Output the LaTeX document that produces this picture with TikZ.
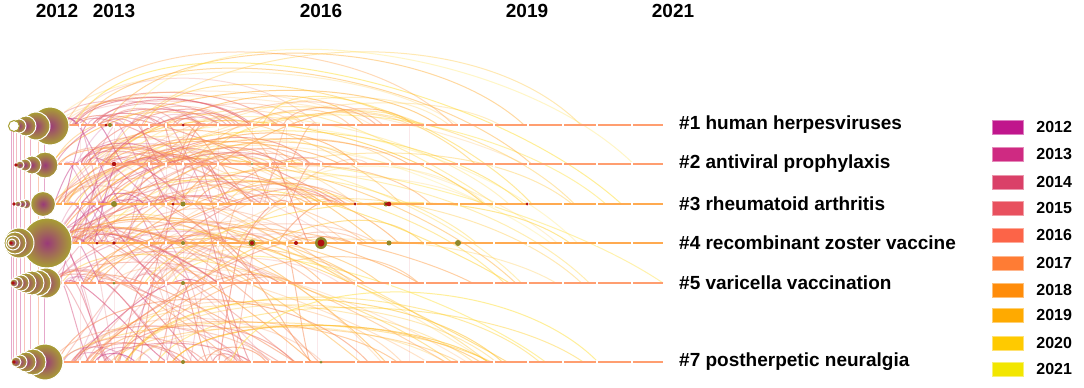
\documentclass[tikz,border=0pt]{standalone}
\usepackage{fontspec}
\setmainfont{Liberation Sans}
\usetikzlibrary{positioning}

% year colours
\definecolor{y2012}{HTML}{C0168C}
\definecolor{y2013}{HTML}{CF2A82}
\definecolor{y2014}{HTML}{DA4068}
\definecolor{y2015}{HTML}{E8505E}
\definecolor{y2016}{HTML}{FC6448}
\definecolor{y2017}{HTML}{FF7C34}
\definecolor{y2018}{HTML}{FF8C0A}
\definecolor{y2019}{HTML}{FFAA00}
\definecolor{y2020}{HTML}{FFCA00}
\definecolor{y2021}{HTML}{F2E600}
% arc colours, early to late
\definecolor{yc0}{HTML}{C8408C}
\definecolor{yc1}{HTML}{D85080}
\definecolor{yc2}{HTML}{E46A78}
\definecolor{yc3}{HTML}{F07A6A}
\definecolor{yc4}{HTML}{F88E5C}
\definecolor{yc5}{HTML}{FFA048}
\definecolor{yc6}{HTML}{FFB038}
\definecolor{yc7}{HTML}{FFC430}
\definecolor{yc8}{HTML}{FFD640}
\definecolor{yc9}{HTML}{FFE450}
\definecolor{lineSalmon}{HTML}{FF9E70}
\definecolor{lineOrange}{HTML}{FFAA50}
\definecolor{nodeOlive}{HTML}{A8A032}
\definecolor{nodePurple}{HTML}{9A3A78}
\definecolor{dotRed}{HTML}{B01010}

\begin{document}
\begin{tikzpicture}[
  x=1pt, y=-1pt,
  clabel/.style={font=\fontsize{19}{22}\selectfont\bfseries, inner sep=0, anchor=west},
  yearlabel/.style={font=\fontsize{19}{22}\selectfont\bfseries, inner sep=0},
  legtext/.style={font=\fontsize{16}{19}\selectfont\bfseries, inner sep=0},
  swatch/.style={minimum width=31pt, minimum height=14pt, inner sep=0},
  timeline/.style={line width=2.8pt},
  gap/.style={white, line width=1.3pt},
  citenode/.style={inner color=nodePurple, outer color=nodeOlive, draw=white, line width=1pt}
]
  \useasboundingbox[fill=white] (0,0) rectangle (1084,388);

  % left vertical links
  \foreach \xv/\cv in {11/yc0, 13/yc1, 16/yc2, 20/yc0, 24/yc3, 30/yc1, 38/yc4, 44/yc0}
    \draw[\cv, opacity=0.45, line width=1pt] (\xv,125) -- (\xv,362);

  % faint vertical links between slices
  \foreach \xv in {80, 114, 166, 183, 218, 252, 286, 317, 356, 409}
    \draw[yc2, opacity=0.15, line width=0.8pt] (\xv,125) -- (\xv,362);

  % citation arcs, ending on slice nodes
  \pgfmathsetseed{4217}
  \foreach \i in {1,...,340}{
    \pgfmathsetmacro{\ra}{int(random(1,6))}
    \pgfmathsetmacro{\rb}{int(max(1,min(6,\ra+random(0,4)-2)))}
    \pgfmathsetmacro{\ya}{{125,164,204,243,283,362}[\ra-1]}
    \pgfmathsetmacro{\yb}{{125,164,204,243,283,362}[\rb-1]}
    \pgfmathsetmacro{\xa}{50+260*rnd*rnd}
    \pgfmathsetmacro{\xb}{min(663,max(\xa+25,45.5+34.5*random(1,18)*(0.35+0.65*rnd)))}
    \pgfmathsetmacro{\len}{\xb-\xa}
    \pgfmathsetmacro{\hh}{min(0.16*\len*(0.5+0.7*rnd)+4, min(\ya,\yb)-32)}
    \pgfmathsetmacro{\ci}{int(min(9,max(0,(\xb-40)/62+random(0,2)-1)))}
    \pgfmathsetmacro{\op}{0.22+0.38*rnd}
    \draw[yc\ci, opacity=\op, line width=1pt]
      (\xa,\ya) .. controls (\xa+0.12*\len,\ya-\hh/0.75) and (\xb-0.25*\len,\yb-\hh/0.75) .. (\xb,\yb);
  }

  % timelines
  \foreach \yy/\lc in {125/lineSalmon, 164/lineSalmon, 204/lineOrange, 243/lineOrange, 283/lineSalmon, 362/lineSalmon}{
    \draw[timeline, \lc] (48,\yy) -- (663,\yy);
    \foreach \xg in {63, 80, 97, 114, 149, 166, 183, 218, 252, 270, 287, 304, 321, 356, 390, 425, 459, 494, 528, 563, 597, 632}
      \draw[gap] (\xg,\yy-2.5) -- (\xg,\yy+2.5);
  }

  % cited references (largest first)
  \foreach \cx/\cy/\cr in {50/126/19, 36/126/14, 26/126/10, 19/126/7,
                           45/165/13, 32/165/9, 25/165/6, 20/165/4,
                           43/204/12.5, 26/204/5, 22/204/4, 18/204/3,
                           47/243/25, 19/243/15, 15/243/11, 13/243/7, 12/243/4,
                           46/283/15, 38/283/13, 32/283/12, 26/283/10, 21/283/8, 17/283/6, 14/283/4,
                           45/362/18, 33/362/13, 26/362/10, 20/362/7, 16/362/5}
    \shade[citenode] (\cx,\cy) circle (\cr);
  \fill[white] (14,126) circle (5);
  \draw[nodeOlive, line width=1pt] (14,126) circle (5.5);
  \foreach \cx/\cy in {16/165, 14/204, 11/243, 13/283, 14/362}
    \fill[dotRed] (\cx,\cy) circle (1.8);

  % small nodes on the timelines
  \foreach \cx/\cy/\cr in {114/204/3, 183/204/2.5, 110/125/2, 252/243/3.5, 321/243/6,
                           389/243/2.5, 458/243/3, 386/204/2.5, 252/164/1.2, 183/243/2,
                           114/283/1.5, 183/283/2, 183/362/2, 321/362/1.5}
    \fill[nodeOlive!85!black] (\cx,\cy) circle (\cr);
  \foreach \cx/\cy/\cr in {106/125/1.5, 183/125/1.5, 114/164/2.2, 173/204/1.5, 355/204/1.5,
                           386/204/1.5, 389/204/2.3, 527/204/1.5, 97/243/1.5, 114/243/1.8,
                           252/243/2, 296/243/2, 321/243/3.5}
    \fill[dotRed] (\cx,\cy) circle (\cr);

  % years along the top
  \node[yearlabel] (t2012) at (57,11) {2012};
  \node[yearlabel] (t2013) at (114,11) {2013};
  \node[yearlabel] (t2016) at (321,11) {2016};
  \node[yearlabel] (t2019) at (527,11) {2019};
  \node[yearlabel] (t2021) at (673,11) {2021};

  % cluster labels
  \node[clabel] (c1) at (679,125) {\#1 human herpesviruses};
  \node[clabel] (c2) at (679,164) {\#2 antiviral prophylaxis};
  \node[clabel] (c3) at (679,204) {\#3 rheumatoid arthritis};
  \node[clabel] (c4) at (679,243) {\#4 recombinant zoster vaccine};
  \node[clabel] (c5) at (679,283) {\#5 varicella vaccination};
  \node[clabel] (c7) at (679,362) {\#7 postherpetic neuralgia};

  % legend
  \foreach \yr/\yy in {2012/127, 2013/154, 2014/182, 2015/208, 2016/235,
                       2017/263, 2018/290, 2019/315, 2020/343, 2021/369}{
    \node[swatch, fill=y\yr, draw=y\yr!55!white] (sw\yr) at (1007.5,\yy) {};
    \node[legtext, right=13pt of sw\yr] (lg\yr) {\yr};
  }
\end{tikzpicture}
\end{document}
